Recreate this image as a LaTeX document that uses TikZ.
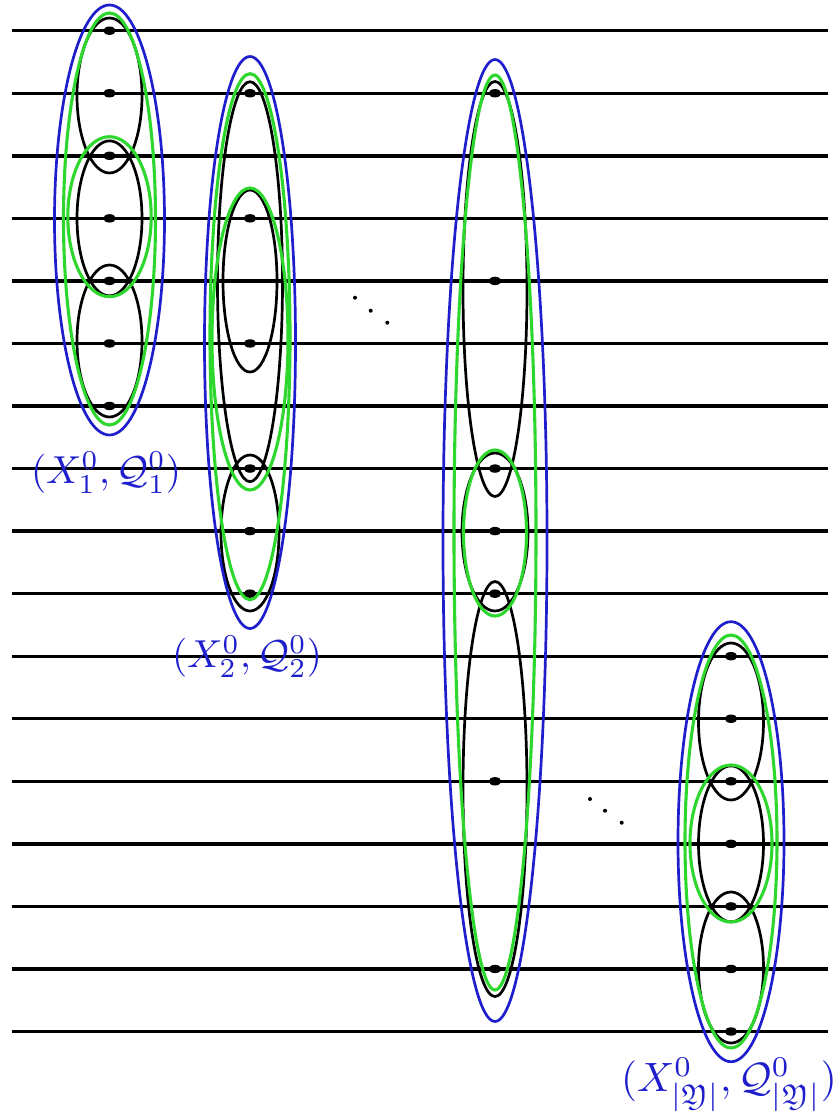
\documentclass[tikz,border=0pt]{standalone}
\usepackage{amssymb}
\definecolor{blu}{RGB}{30,30,205}
\definecolor{grn}{RGB}{45,215,45}
\tikzset{
  hline/.style={line width=3.4pt, black},
  blk/.style={line width=2.7pt, black},
  grnl/.style={line width=3.1pt, grn},
  blul/.style={line width=2.7pt, blu},
  lab/.style={text=blu, inner sep=0pt, anchor=base},
}
\newcommand{\pdot}[2]{\fill (#1,#2) ellipse [x radius=6.3pt, y radius=4.2pt];}
\newcommand{\ellp}[5][blk]{\draw[#1] (#2,#3) ellipse [x radius=#4pt, y radius=#5pt];}
\begin{document}
\begin{tikzpicture}[x=1pt,y=-1pt]
\useasboundingbox (0,0) rectangle (840,1117);
% horizontal lines
\foreach \k in {0,...,16}{
  \draw[hline] (12,{30.7+62.55*\k}) -- (828,{30.7+62.55*\k});
}
% ---------- group 1 ----------
\foreach \k in {0,...,6}{ \pdot{109.5}{30.7+62.55*\k} }
\ellp{109.5}{95.5}{32.5}{77.5}
\ellp{109.5}{218.35}{32.5}{77.5}
\ellp{109.5}{341}{32.5}{76}
\ellp[grnl]{109.5}{216.7}{41.7}{80}
\ellp[grnl]{109.5}{219}{46}{206}
\ellp[blul]{109.5}{220}{55}{215}
\node[lab] (l1) at (106,483.5) {\scalebox{3.9}{$(X^0_1,\mathcal{Q}^0_1)$}};
% ---------- group 2 ----------
\foreach \yy in {93.25,218.35,343.45,468.55,531.10,593.65}{ \pdot{250}{\yy} }
\ellp{250}{281.7}{32.5}{200}
\ellp{250}{281}{27}{91}
\ellp{250}{533}{29}{78}
\ellp[grnl]{250}{339}{38}{151}
\ellp[grnl]{250}{336.7}{40}{263}
\ellp[blul]{250}{342.5}{45.5}{286}
\node[lab] (l2) at (247,667.5) {\scalebox{3.9}{$(X^0_2,\mathcal{Q}^0_2)$}};
% ---------- group 3 ----------
\foreach \yy in {93.25,280.90,468.55,531.10,593.65,781.30,968.95}{ \pdot{495}{\yy} }
\ellp{495}{289}{32}{207.5}
\ellp{495}{532}{33}{79}
\ellp{495}{789}{32}{207.5}
\ellp[grnl]{495}{533}{31.5}{83}
\ellp[grnl]{495}{532.5}{41}{457.5}
\ellp[blul]{495}{540.5}{52}{481}
% ---------- group 4 ----------
\foreach \k in {10,...,16}{ \pdot{731}{30.7+62.55*\k} }
\ellp{731}{721.5}{32.5}{78.5}
\ellp{731}{843.85}{32.5}{78}
\ellp{731}{967.5}{32.5}{75.5}
\ellp[grnl]{731}{843.5}{41}{78.5}
\ellp[grnl]{731}{841.5}{46}{206.5}
\ellp[blul]{731}{841.7}{53}{220}
\node[lab] (l4) at (729,1091.5) {\scalebox{4.1}{$(X^0_{|\mathfrak{Y}|},\mathcal{Q}^0_{|\mathfrak{Y}|})$}};
% ---------- ellipsis dots ----------
\fill (355,297.7) circle [radius=2pt];
\fill (370.7,310.7) circle [radius=2pt];
\fill (387.3,322.7) circle [radius=2pt];
\fill (590,799) circle [radius=2pt];
\fill (605,810.7) circle [radius=2pt];
\fill (621.7,822.7) circle [radius=2pt];
\end{tikzpicture}
\end{document}
